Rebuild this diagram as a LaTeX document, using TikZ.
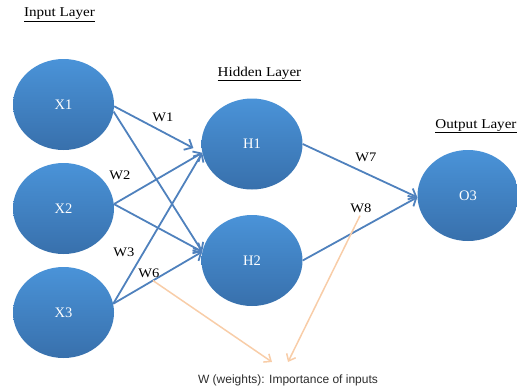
\documentclass[tikz,border=0pt]{standalone}
\usepackage{fontspec}
\setmainfont[FakeStretch=1.12]{Liberation Serif}
\newfontfamily\neuronfont{Liberation Serif}
\newfontfamily\capfont{Liberation Sans}
\usetikzlibrary{shapes.geometric,arrows.meta,calc}
\definecolor{nodetop}{RGB}{74,147,216}
\definecolor{nodebot}{RGB}{56,112,172}
\definecolor{edgeblue}{RGB}{79,129,189}
\definecolor{peach}{RGB}{248,205,168}
\definecolor{captiongray}{RGB}{45,45,45}
\begin{document}
\begin{tikzpicture}[x=1pt,y=-1pt,
  neuron/.style={ellipse, minimum width=101pt, minimum height=91pt, inner sep=0pt,
    top color=nodetop, bottom color=nodebot, draw=none, text=white,
    font=\neuronfont\fontsize{14.5}{16}\selectfont},
  layertitle/.style={inner sep=0pt, font=\fontsize{13.5}{16}\selectfont},
  wlabel/.style={inner sep=0pt, font=\fontsize{13}{15}\selectfont},
  wire/.style={edgeblue, line width=1.8pt, -{Straight Barb[length=6.5pt,width=12pt]}},
  note/.style={peach, line width=1.5pt, -{Straight Barb[length=6pt,width=10pt]}}
]
\useasboundingbox (0,0) rectangle (517,389);

% layer titles
\node[layertitle] (tin)  at (59.5,15)  {\underline{Input Layer}};
\node[layertitle] (thid) at (259.5,74) {\underline{Hidden Layer}};
\node[layertitle] (tout) at (476,126)  {\underline{Output Layer}};

% neurons
\node[neuron] (X1) at (63.5,104.5) {X1};
\node[neuron] (X2) at (63.5,208.5) {X2};
\node[neuron] (X3) at (63.5,312.5) {X3};
\node[neuron] (H1) at (252,144)    {H1};
\node[neuron] (H2) at (252,260.5)  {H2};
\node[neuron] (O3) at (468,195.5)  {O3};

% input -> hidden
\draw[wire, shorten >=10pt] (X1.-2) -- (H1.190);
\draw[wire] (X1.-8) -- (H2.170);
\draw[wire] (X2.5)  -- (H1.190);
\draw[wire] (X2.5)  -- (H2.170);
\draw[wire] (X3.10) -- (H1.190);
\draw[wire] (X3.10) -- (H2.170);

% hidden -> output
\draw[wire] (H1.east) -- (O3.182);
\draw[wire] (H2.east) -- (O3.182);

% weight labels
\node[wlabel] (W1) at (163,117) {W1};
\node[wlabel] (W2) at (120,175) {W2};
\node[wlabel] (W3) at (124,252) {W3};
\node[wlabel] (W6) at (149,273) {W6};
\node[wlabel] (W7) at (366,157) {W7};
\node[wlabel] (W8) at (361,208) {W8};

% explanation
\node[inner sep=0pt, text=captiongray, font=\capfont\fontsize{12}{14}\selectfont]
  (cap) at (288,380) {W (weights): Importance of inputs};
\coordinate (pinA) at (272,362);
\coordinate (pinB) at (288,362);
\draw[note] ($(W6.south)+(4,3)$) -- (pinA);
\draw[note] ($(W8.south)+(-1,3)$) -- (pinB);
\end{tikzpicture}
\end{document}
